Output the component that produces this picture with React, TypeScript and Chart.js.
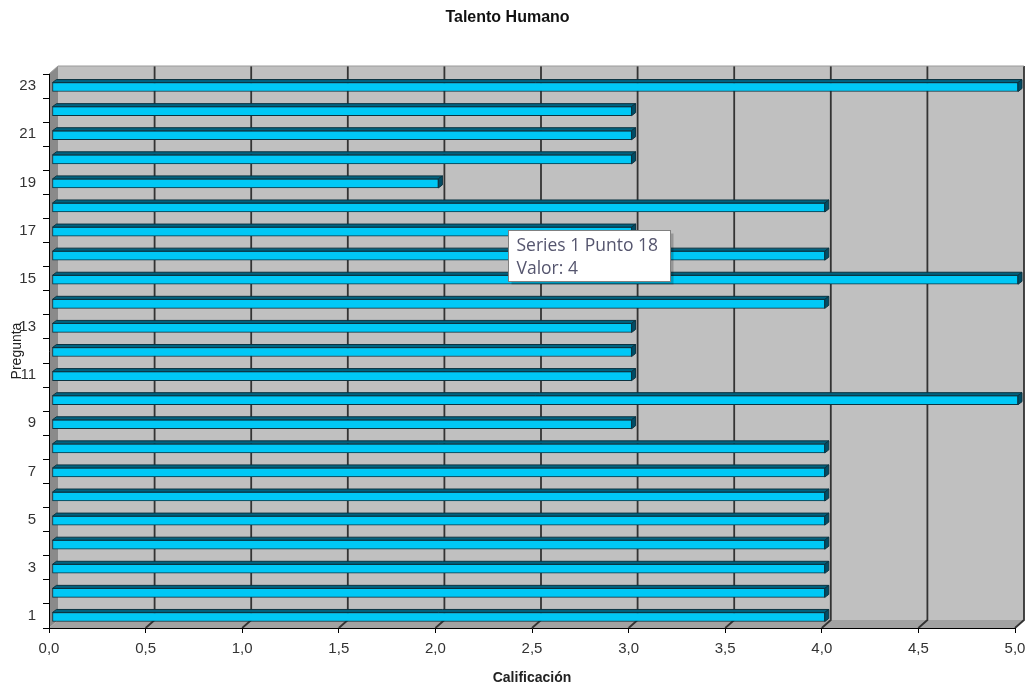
import React, { useEffect, useRef } from 'react';
import { Chart, registerables } from 'chart.js';

Chart.register(...registerables);

const chartTitle = 'Talento Humano';
const xTitle = 'Calificación';
const yTitle = 'Pregunta';
const seriesName = 'Series 1';
const categories = ['1', '2', '3', '4', '5', '6', '7', '8', '9', '10', '11', '12', '13', '14', '15', '16', '17', '18', '19', '20', '21', '22', '23'];
const values = [4, 4, 4, 4, 4, 4, 4, 4, 3, 5, 3, 3, 3, 4, 5, 4, 3, 4, 2, 3, 3, 3, 5];
const xTickValues = [0, 0.5, 1, 1.5, 2, 2.5, 3, 3.5, 4, 4.5, 5];
const tooltipPoint = 18;

const FONT = '"Liberation Sans", Arial, sans-serif';
const DX = 9;
const DY = -8;

function poly(ctx: CanvasRenderingContext2D, pts: number[][], fill: string, stroke?: string) {
  ctx.beginPath();
  ctx.moveTo(pts[0][0], pts[0][1]);
  for (let i = 1; i < pts.length; i++) ctx.lineTo(pts[i][0], pts[i][1]);
  ctx.closePath();
  ctx.fillStyle = fill;
  ctx.fill();
  if (stroke) {
    ctx.strokeStyle = stroke;
    ctx.lineWidth = 1;
    ctx.stroke();
  }
}

const wallsPlugin = {
  id: 'walls3d',
  beforeDraw(chart: any) {
    const { ctx, chartArea: a, scales } = chart;
    const xs = scales.x;
    ctx.save();
    ctx.fillStyle = '#ffffff';
    ctx.fillRect(0, 0, chart.width, chart.height);
    // back wall
    poly(ctx, [[a.left + DX, a.top + DY], [a.right + DX, a.top + DY], [a.right + DX, a.bottom + DY], [a.left + DX, a.bottom + DY]], '#c0c0c0');
    // left wall
    poly(ctx, [[a.left, a.top], [a.left + DX, a.top + DY], [a.left + DX, a.bottom + DY], [a.left, a.bottom]], '#8a8a8a');
    // floor
    poly(ctx, [[a.left, a.bottom], [a.left + DX, a.bottom + DY], [a.right + DX, a.bottom + DY], [a.right, a.bottom]], '#a2a2a2');
    // grid lines on back wall and floor
    ctx.strokeStyle = '#333333';
    ctx.lineWidth = 1.8;
    xTickValues.forEach((v) => {
      if (v === 0) return;
      const px = xs.getPixelForValue(v);
      ctx.beginPath();
      ctx.moveTo(px + DX, a.top + DY);
      ctx.lineTo(px + DX, a.bottom + DY);
      ctx.lineTo(px, a.bottom);
      ctx.stroke();
    });
    // edges
    ctx.strokeStyle = '#9a9a9a';
    ctx.lineWidth = 1;
    ctx.beginPath();
    ctx.moveTo(a.left, a.top);
    ctx.lineTo(a.left + DX, a.top + DY);
    ctx.lineTo(a.right + DX, a.top + DY);
    ctx.stroke();
    ctx.restore();
  },
  beforeDatasetsDraw(chart: any) {
    chart.ctx.save();
    chart.ctx.translate(3, 1);
  },
  afterDatasetsDraw(chart: any) {
    const ctx = chart.ctx;
    const meta = chart.getDatasetMeta(0);
    meta.data.forEach((bar: any) => {
      const { x, y, base, height } = bar.getProps(['x', 'y', 'base', 'height'], true);
      const top = y - height / 2;
      const bottom = y + height / 2;
      poly(ctx, [[base, top], [x, top], [x + 4, top - 3], [base + 4, top - 3]], '#006380', '#0b3340');
      poly(ctx, [[x, top], [x + 4, top - 3], [x + 4, bottom - 3], [x, bottom]], '#004d66', '#0b3340');
    });
    ctx.restore();
  },
  afterDraw(chart: any) {
    const { ctx } = chart;
    const bx = 508.5;
    const by = 230.5;
    const bw = 162;
    const bh = 51;
    ctx.save();
    ctx.fillStyle = 'rgba(0,0,0,0.22)';
    ctx.fillRect(bx + 3, by + 3, bw, bh);
    ctx.fillStyle = '#ffffff';
    ctx.fillRect(bx, by, bw, bh);
    ctx.strokeStyle = '#808080';
    ctx.lineWidth = 1;
    ctx.strokeRect(bx, by, bw, bh);
    ctx.fillStyle = '#55556e';
    ctx.font = '17.5px "Open Sans", "Noto Sans", sans-serif';
    ctx.textBaseline = 'alphabetic';
    ctx.textAlign = 'left';
    ctx.fillText(`${seriesName} Punto ${tooltipPoint}`, bx + 8, by + 20);
    ctx.fillText(`Valor: ${values[tooltipPoint - 1]}`, bx + 8, by + 43);
    ctx.restore();
  },
};

export default function App() {
  const ref = useRef<HTMLCanvasElement | null>(null);
  useEffect(() => {
    if (!ref.current) return;
    const chart = new Chart(ref.current, {
      type: 'bar',
      data: {
        labels: categories,
        datasets: [
          {
            label: seriesName,
            data: values,
            backgroundColor: '#00c8f6',
            borderColor: '#0b3340',
            borderWidth: 1,
            borderSkipped: false,
            barThickness: 9,
          },
        ],
      },
      options: {
        indexAxis: 'y',
        responsive: false,
        animation: false,
        devicePixelRatio: 1,
        layout: { padding: { left: 0, right: 11, top: 0, bottom: 0 } },
        plugins: {
          legend: { display: false },
          tooltip: { enabled: false },
          title: {
            display: true,
            text: chartTitle,
            color: '#111',
            font: { family: FONT, size: 16, weight: 'bold' },
            padding: { top: 8, bottom: 46.8 },
          },
        },
        scales: {
          x: {
            type: 'linear',
            min: 0,
            max: 5,
            afterFit: (s: any) => {
              s.height = 59;
              s.paddingLeft = 0;
              s.paddingRight = 0;
            },
            afterBuildTicks: (s: any) => {
              s.ticks = xTickValues.map((v) => ({ value: v }));
            },
            ticks: {
              color: '#333',
              font: { family: FONT, size: 15 },
              padding: 7,
              callback: (v: any) => Number(v).toFixed(1).replace('.', ','),
            },
            grid: { drawOnChartArea: false, tickLength: 5, color: '#000' },
            border: { display: true, color: '#000', width: 1 },
            title: {
              display: true,
              text: xTitle,
              color: '#222',
              font: { family: FONT, size: 14, weight: 'bold' },
              padding: { top: 0, bottom: 0 },
            },
          },
          y: {
            type: 'category',
            reverse: true,
            afterFit: (s: any) => {
              s.width = 49;
              s.paddingTop = 0;
              s.paddingBottom = 0;
            },
            ticks: {
              autoSkip: false,
              color: '#333',
              font: { family: FONT, size: 15 },
              padding: 7,
              callback: (_v: any, i: number) => (i % 2 === 0 ? categories[i] : ''),
            },
            grid: { offset: true, drawOnChartArea: false, tickLength: 6, color: '#000' },
            border: { display: true, color: '#000', width: 1 },
            title: {
              display: true,
              text: yTitle,
              color: '#222',
              font: { family: FONT, size: 14 },
              padding: { top: 9, bottom: 0 },
            },
          },
        },
      },
      plugins: [wallsPlugin],
    } as any);
    return () => chart.destroy();
  }, []);
  return (
    <canvas
      ref={ref}
      width={1026}
      height={687}
      style={{ position: 'absolute', left: 0, top: 0, width: 1026, height: 687 }}
    />
  );
}
